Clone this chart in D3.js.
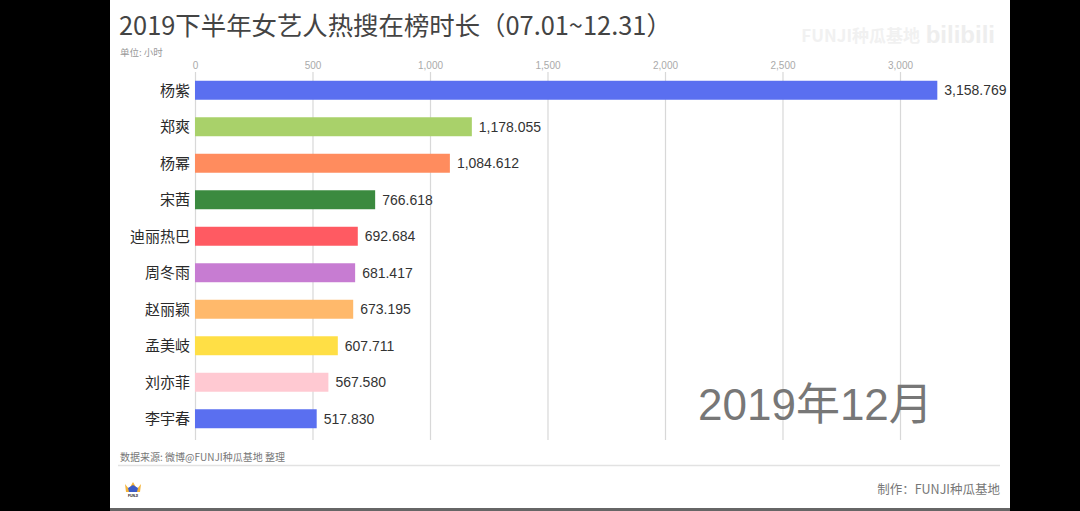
<!DOCTYPE html>
<html><head><meta charset="utf-8">
<script src="https://cdn.jsdelivr.net/npm/d3@7"></script>
<style>
html,body{margin:0;padding:0;background:#000;}
svg{display:block;}
</style></head>
<body>
<svg id="c" width="1080" height="511"></svg>
<script>
const names = ["杨紫","郑爽","杨幂","宋茜","迪丽热巴","周冬雨","赵丽颖","孟美岐","刘亦菲","李宇春"];
const values = [3158.769,1178.055,1084.612,766.618,692.684,681.417,673.195,607.711,567.580,517.830];
const colors = ["#5a6ff0","#a9d16a","#ff8c5e","#3b8a3f","#ff5a62","#c77cd2","#ffb96b","#ffdf45","#ffc9d2","#5a6ff0"];
const tickValues = [0,500,1000,1500,2000,2500,3000];
const title = "2019下半年女艺人热搜在榜时长（07.01~12.31）";
const unit = "单位: 小时";
const period = "2019年12月";
const source = "数据来源: 微博@FUNJI种瓜基地 整理";
const credit = "制作：FUNJI种瓜基地";

const svg = d3.select("#c");
const CJK = "'Noto Sans CJK SC','Noto Sans',sans-serif";
const NUM = "'Liberation Sans',Arial,'Noto Sans CJK SC',sans-serif";

svg.append("rect").attr("x",110).attr("y",0).attr("width",900).attr("height",511).attr("fill","#fff");

const x = d3.scaleLinear().domain([0,3000]).range([195,900]);
const y = d3.scaleBand().domain(names).range([72,437]).paddingInner(0.48).paddingOuter(0.24);

// watermark
svg.append("text").attr("x",920).attr("y",42).attr("text-anchor","end")
  .attr("font-family",CJK).attr("font-size",17).attr("font-weight",700).attr("fill","#f1f1f1").text("FUNJI种瓜基地");
svg.append("text").attr("x",995).attr("y",43).attr("text-anchor","end")
  .attr("font-family",NUM).attr("font-size",24).attr("font-weight",700).attr("fill","#eeeeee").text("bilibili");

// title
svg.append("text").attr("x",119).attr("y",35).attr("font-family",CJK).attr("font-size",25.4)
  .attr("fill","#444").text(title);
svg.append("text").attr("x",120).attr("y",56).attr("font-family",CJK).attr("font-size",9.5)
  .attr("fill","#999").text(unit);

// axis
const axis = d3.axisTop(x).tickValues(tickValues).tickFormat(d3.format(",")).tickSize(-(440-72)).tickPadding(3);
const g = svg.append("g").attr("transform","translate(0,72)").call(axis);
g.select(".domain").remove();
g.selectAll(".tick line").attr("stroke","#d8d8d8").attr("stroke-width",1.2);
g.selectAll(".tick text").attr("font-family",NUM).attr("font-size",10).attr("fill","#aaa");

// period
svg.append("text").attr("x",698).attr("y",420).attr("font-family",NUM).attr("font-size",44)
  .attr("fill","#777").text(period);

// bars
const rows = names.map((n,i)=>({n,v:values[i],c:colors[i]}));
svg.selectAll("rect.bar").data(rows).join("rect").attr("class","bar")
  .attr("x",x(0)).attr("y",d=>y(d.n)).attr("width",d=>x(d.v)-x(0)).attr("height",y.bandwidth())
  .attr("fill",d=>d.c);
svg.selectAll("text.cat").data(rows).join("text").attr("class","cat")
  .attr("x",190).attr("y",d=>y(d.n)+y.bandwidth()/2).attr("dy","0.36em").attr("text-anchor","end")
  .attr("font-family",CJK).attr("font-size",15).attr("fill","#2a2a2a").text(d=>d.n);
const fmt = d3.format(",.3f");
svg.selectAll("text.val").data(rows).join("text").attr("class","val")
  .attr("x",d=>x(d.v)+7).attr("y",d=>y(d.n)+y.bandwidth()/2).attr("dy","0.36em")
  .attr("font-family",NUM).attr("font-size",14).attr("fill","#333").text(d=>fmt(d.v));

// footer
svg.append("text").attr("x",120).attr("y",461).attr("font-family",CJK).attr("font-size",10)
  .attr("fill","#777").text(source);
svg.append("line").attr("x1",118).attr("x2",1000).attr("y1",465.5).attr("y2",465.5)
  .attr("stroke","#e2e2e2").attr("stroke-width",1.5);
svg.append("text").attr("x",1000).attr("y",494).attr("text-anchor","end").attr("font-family",CJK)
  .attr("font-size",12.5).attr("fill","#777").text(credit);

// logo
const lg = svg.append("g").attr("transform","translate(124,480)");
lg.append("path").attr("d","M1,4 L5,9 L9,2 L13,9 L17,4 L16,12 L2,12 Z").attr("fill","#f4b43a");
lg.append("path").attr("d","M4,8 L9,5 L14,8 L13,12 L5,12 Z").attr("fill","#3b5bc7");
lg.append("text").attr("x",9).attr("y",17).attr("text-anchor","middle").attr("font-family",NUM)
  .attr("font-size",3.5).attr("font-weight",700).attr("fill","#222").text("FUNJI");

// bottom border
svg.append("rect").attr("x",110).attr("y",508).attr("width",900).attr("height",3).attr("fill","#666");
</script>
</body></html>
